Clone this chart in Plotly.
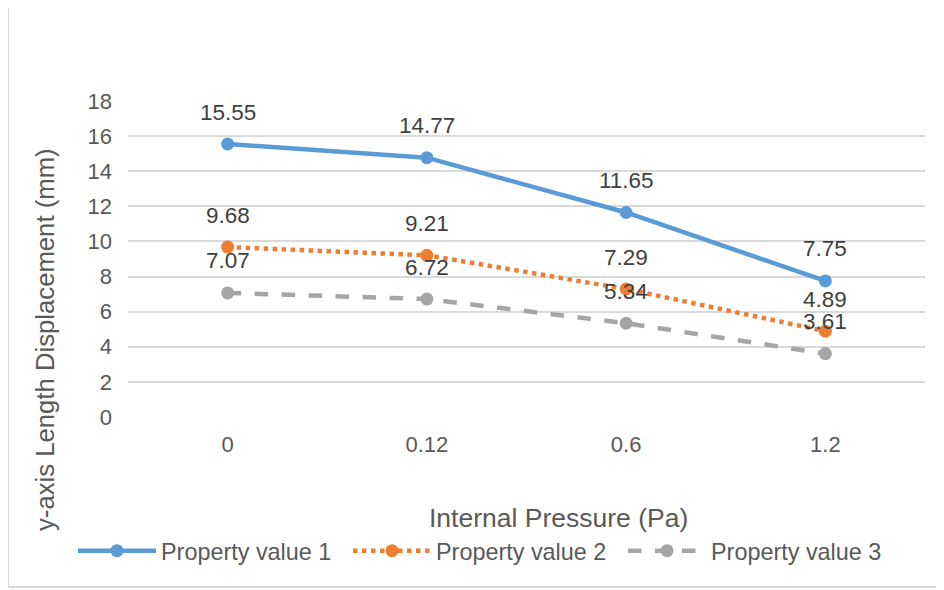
import plotly.graph_objects as go

categories = ["0", "0.12", "0.6", "1.2"]
series_names = ["Property value 1", "Property value 2", "Property value 3"]
values_1 = [15.55, 14.77, 11.65, 7.75]
values_2 = [9.68, 9.21, 7.29, 4.89]
values_3 = [7.07, 6.72, 5.34, 3.61]
y_ticks = [0, 2, 4, 6, 8, 10, 12, 14, 16, 18]

colors = ["#5B9BD5", "#ED7D31", "#A5A5A5"]
dashes = ["solid", "dot", "dash"]
all_values = [values_1, values_2, values_3]

FONT = "Liberation Sans, Arial, sans-serif"

fig = go.Figure()
for name, vals, col, dsh in zip(series_names, all_values, colors, dashes):
    fig.add_trace(go.Scatter(
        x=categories, y=vals, name=name, mode="lines+markers",
        line=dict(color=col, width=4.5, dash=dsh),
        marker=dict(color=col, size=13),
    ))
    for i, v in enumerate(vals):
        fig.add_annotation(x=i, y=v, text=f"{v:.2f}", showarrow=False,
                           xanchor="center", yanchor="middle",
                           yshift=32, font=dict(family=FONT, size=22.5, color="#404040"))

W, H = 944, 590
OFF = 8  # page body margin offset
ml, mt = 128 - OFF, 101 - OFF
pw, ph = 797, 316
mr, mb = W - ml - pw, H - mt - ph

def px(x):
    return (x - OFF - ml) / pw

def py(y):
    return (mt + ph - (y - OFF)) / ph

fig.add_annotation(xref="paper", yref="paper", x=px(558), y=py(518),
                   xanchor="center", yanchor="middle",
                   text="Internal Pressure (Pa)", showarrow=False,
                   font=dict(family=FONT, size=26.5, color="#595959"))
fig.add_annotation(xref="paper", yref="paper", x=px(45), y=py(340),
                   xanchor="center", yanchor="middle",
                   text="y-axis Length Displacement (mm)", showarrow=False, textangle=-90,
                   font=dict(family=FONT, size=25.7, color="#595959"))

fig.add_shape(type="rect", xref="paper", yref="paper",
              x0=px(8), x1=px(960), y0=py(587), y1=py(5),
              line=dict(color="#D9D9D9", width=2), fillcolor="rgba(0,0,0,0)", layer="below")

fig.update_layout(
    width=W, height=H,
    margin=dict(l=ml, r=mr, t=mt, b=mb, autoexpand=False),
    paper_bgcolor="white", plot_bgcolor="white",
    font=dict(family=FONT, size=22, color="#595959"),
    showlegend=True,
    legend=dict(orientation="h", x=px(73), xanchor="left", y=py(529), yanchor="top",
                font=dict(family=FONT, size=23.4, color="#595959"),
                itemwidth=78, entrywidth=182, bgcolor="rgba(0,0,0,0)"),
    xaxis=dict(type="category", range=[-0.5, 3.5], showgrid=False, showline=False,
               zeroline=False, ticks="", ticklabelstandoff=12,
               tickfont=dict(size=22, color="#595959")),
    yaxis=dict(range=[0, 18], tickvals=y_ticks, showgrid=True, gridcolor="#D9D9D9",
               gridwidth=1.5, zeroline=False, showline=False, ticks="",
               tickfont=dict(size=22, color="#595959"), ticklabelstandoff=15),
)

fig.write_html("out.html")
